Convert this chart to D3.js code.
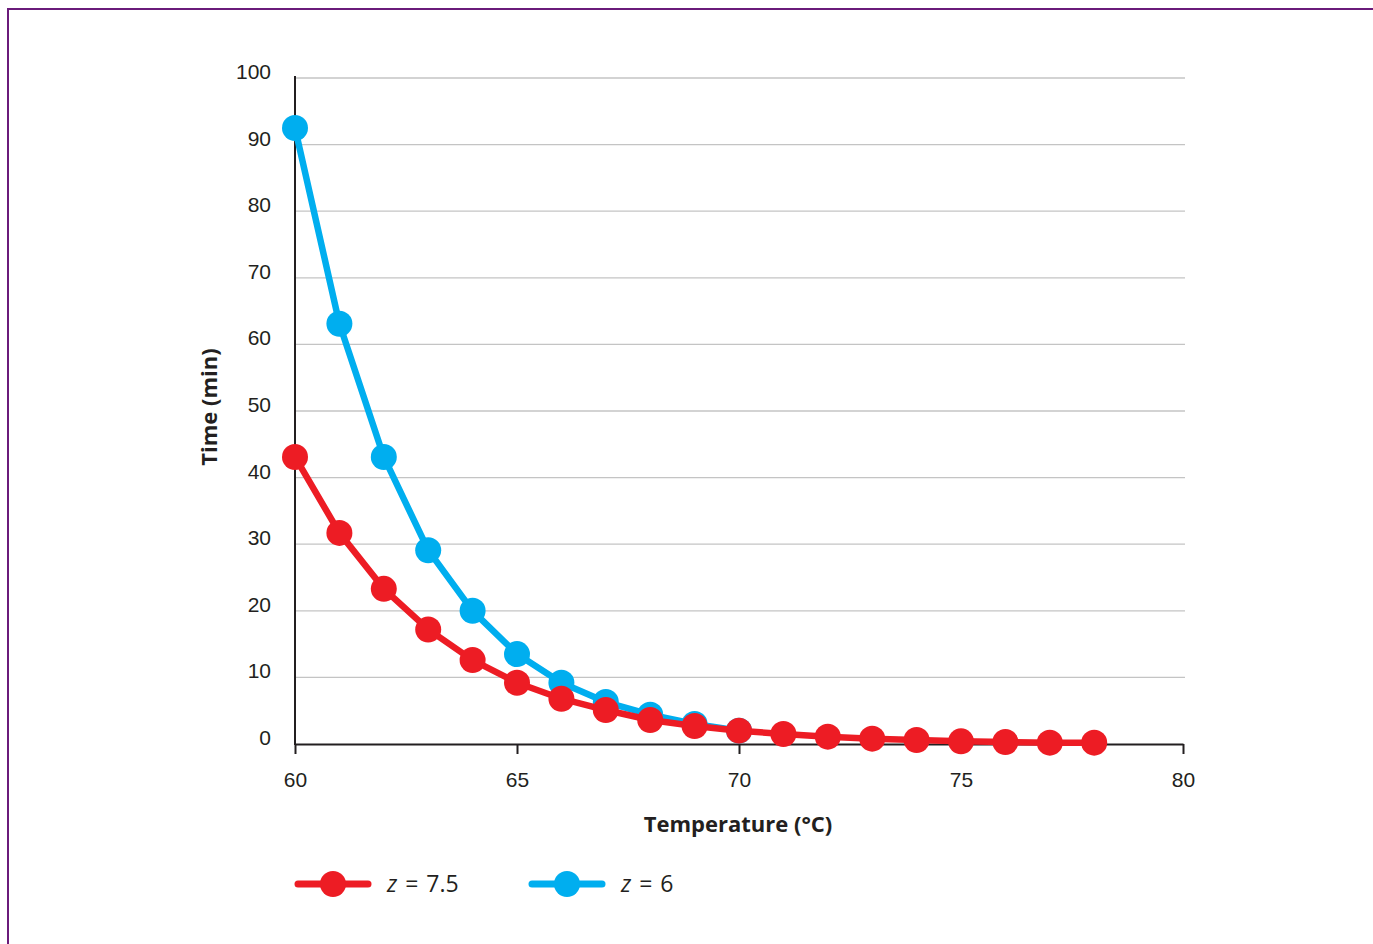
<!DOCTYPE html>
<html>
<head>
<meta charset="utf-8">
<script src="https://cdn.jsdelivr.net/npm/d3@7"></script>
<style>
  body { margin: 0; background: #fff; }
  svg { display: block; font-family: "Open Sans", "Noto Sans", sans-serif; }
</style>
</head>
<body>
<script>
(function(){

// Chart data
var temps = [60, 61, 62, 63, 64, 65, 66, 67, 68, 69, 70, 71, 72, 73, 74, 75, 76, 77, 78];
var timeZ75 = [43.1, 31.7, 23.3, 17.2, 12.6, 9.2, 6.8, 5.1, 3.6, 2.7, 2.0, 1.5, 1.1, 0.8, 0.6, 0.4, 0.3, 0.2, 0.2];
// blue series disappears under the red one after 70 °C
var timeZ6 = [92.5, 63.1, 43.1, 29.1, 20.0, 13.5, 9.2, 6.3, 4.4, 3.0, 2.0];
var xTicks = [60, 65, 70, 75, 80];
var yTicks = [0, 10, 20, 30, 40, 50, 60, 70, 80, 90, 100];
var seriesNames = ["z = 7.5", "z = 6"];

var width = 1373, height = 944;
var red = "#ed1c24", blue = "#00aeef", ink = "#231f20";

var svg = d3.select("body").append("svg")
    .attr("width", width)
    .attr("height", height);

// Purple frame (only top and left visible)
svg.append("rect")
    .attr("x", 8).attr("y", 9)
    .attr("width", width + 20).attr("height", height + 20)
    .style("fill", "none")
    .style("stroke", "#6a1b7a")
    .style("stroke-width", 2);

var x = d3.scaleLinear().domain([60, 80]).range([295, 1183]);
var y = d3.scaleLinear().domain([0, 100]).range([744, 78]);

// Gridlines
svg.append("g").selectAll("line")
    .data(yTicks.filter(function(d){ return d > 0; }))
    .enter().append("line")
    .attr("x1", x(60)).attr("x2", 1185)
    .attr("y1", function(d){ return y(d); })
    .attr("y2", function(d){ return y(d); })
    .style("stroke", "#c4c4c4")
    .style("stroke-width", 1.3);

// Y axis
var yAxis = svg.append("g")
    .attr("transform", "translate(" + x(60) + ",0)")
    .call(d3.axisLeft(y).tickValues(yTicks).tickSize(0).tickPadding(24));
yAxis.select(".domain").attr("d", "M0," + (y(100) - 2) + "V" + (y(0) + 1))
    .style("stroke", ink).style("stroke-width", 2);
yAxis.selectAll("text")
    .attr("dy", "0.02em")
    .style("font-size", "21px")
    .style("fill", ink);

// X axis
var xAxis = svg.append("g")
    .attr("transform", "translate(0," + y(0) + ")")
    .call(d3.axisBottom(x).tickValues(xTicks).tickSize(10).tickSizeOuter(0).tickPadding(18));
xAxis.select(".domain").style("stroke", ink).style("stroke-width", 2);
xAxis.selectAll(".tick line").style("stroke", ink).style("stroke-width", 2);
xAxis.selectAll("text")
    .style("font-size", "21px")
    .style("fill", ink);

// Axis titles
svg.append("text")
    .attr("x", 738).attr("y", 832)
    .attr("text-anchor", "middle")
    .style("font-size", "22px").style("font-weight", "bold")
    .style("fill", ink)
    .text("Temperature (°C)");

svg.append("text")
    .attr("transform", "translate(217,407) rotate(-90)")
    .attr("text-anchor", "middle")
    .style("font-size", "22px").style("font-weight", "bold")
    .style("fill", ink)
    .text("Time (min)");

// Series
var line = d3.line()
    .x(function(d){ return x(d[0]); })
    .y(function(d){ return y(d[1]); });

function drawSeries(values, color){
    var pts = d3.zip(temps.slice(0, values.length), values);
    svg.append("path")
        .datum(pts)
        .attr("d", line)
        .style("fill", "none")
        .style("stroke", color)
        .style("stroke-width", 6.5)
        .style("stroke-linejoin", "round");
    svg.append("g").selectAll("circle")
        .data(pts)
        .enter().append("circle")
        .attr("cx", function(d){ return x(d[0]); })
        .attr("cy", function(d){ return y(d[1]); })
        .attr("r", 13)
        .style("fill", color);
}
drawSeries(timeZ6, blue);
drawSeries(timeZ75, red);

// Legend
var legend = [
    {name: seriesNames[0], color: red, x: 298},
    {name: seriesNames[1], color: blue, x: 532}
];
var lg = svg.append("g").selectAll("g")
    .data(legend)
    .enter().append("g")
    .attr("transform", function(d){ return "translate(" + d.x + ",884)"; });
lg.append("line")
    .attr("x1", 0).attr("x2", 70)
    .style("stroke", function(d){ return d.color; })
    .style("stroke-width", 7)
    .style("stroke-linecap", "round");
lg.append("circle")
    .attr("cx", 35).attr("r", 13)
    .style("fill", function(d){ return d.color; });
var lt = lg.append("text")
    .attr("x", 89).attr("y", 8)
    .style("font-size", "23px")
    .style("fill", ink)
    .style("word-spacing", "2px");
lt.append("tspan").style("font-style", "italic").text("z");
lt.append("tspan").text(function(d){ return d.name.slice(1); });

})();
</script>
</body>
</html>
